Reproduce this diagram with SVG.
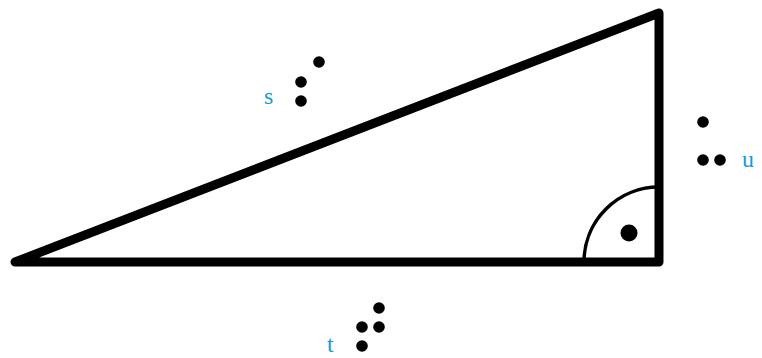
<svg xmlns="http://www.w3.org/2000/svg" width="762" height="358" viewBox="0 0 762 358">
<style>
.tri{fill:none;stroke:#000;stroke-width:9;stroke-linejoin:round;stroke-linecap:round}
.arc{fill:none;stroke:#000;stroke-width:3.5}
.dot{fill:#000}
.lbl{font-family:"Liberation Serif","DejaVu Serif",serif;font-size:24px;fill:#1a9ad6}
</style>
<rect width="762" height="358" fill="#fff"/>
<g id="triangle">
<path class="tri" d="M15,262 L659,262 L659,13 Z"/>
<path class="arc" d="M584,262 A75,75 0 0 1 659,187"/>
<circle class="dot" cx="629" cy="233" r="8.5"/>
</g>
<g id="s">
<circle class="dot" cx="319" cy="62" r="5.8"/>
<circle class="dot" cx="301" cy="82" r="5.8"/>
<circle class="dot" cx="301" cy="101" r="5.8"/>
<text class="lbl" x="264" y="104">s</text>
</g>
<g id="t">
<circle class="dot" cx="379" cy="308" r="5.8"/>
<circle class="dot" cx="362" cy="327" r="5.8"/>
<circle class="dot" cx="379" cy="327" r="5.8"/>
<circle class="dot" cx="362" cy="346" r="5.8"/>
<text class="lbl" x="327" y="352">t</text>
</g>
<g id="u">
<circle class="dot" cx="703" cy="122" r="5.8"/>
<circle class="dot" cx="703" cy="160" r="5.8"/>
<circle class="dot" cx="720" cy="160" r="5.8"/>
<text class="lbl" x="742" y="167">u</text>
</g>
</svg>
